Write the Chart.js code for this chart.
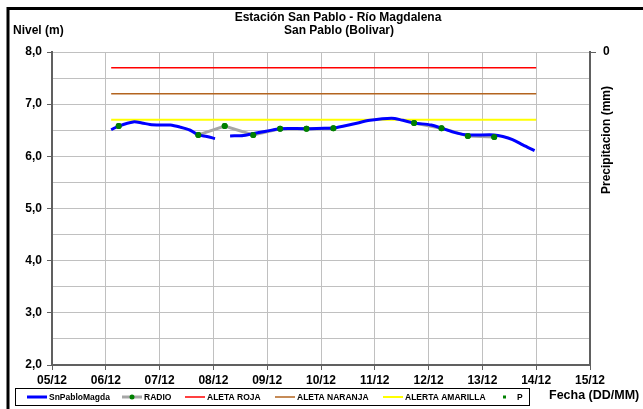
<!DOCTYPE html>
<html>
<head>
<meta charset="utf-8">
<script src="https://cdn.jsdelivr.net/npm/chart.js@4.4.1/dist/chart.umd.min.js"></script>
<style>
	html, body { margin: 0; padding: 0; background: #fff; }
	#wrap { position: relative; width: 643px; height: 409px; }
</style>
</head>
<body>
<div id="wrap"><canvas id="nivel-chart" width="643" height="409"></canvas></div>
<script>
// tick labels for days 5..15 of December
const fechaEtiquetas = ["05/12", "06/12", "07/12", "08/12", "09/12", "10/12", "11/12", "12/12", "13/12", "14/12", "15/12"];

// SnPabloMagda sensor (x = day of month, fractional)
const nivelDias = [6.10, 6.24, 6.51, 6.67, 6.82, 7.01, 7.20, 7.38, 7.57, 7.72, 7.88, 8.03, 8.15,
	8.31, 8.56, 8.71, 8.98, 9.24, 9.73, 10.07, 10.23, 10.60, 10.91, 11.31, 11.52, 11.73, 12.05,
	12.24, 12.51, 12.73, 13.22, 13.38, 13.56, 13.75, 13.97];
const nivelValores = [6.51, 6.58, 6.66, 6.64, 6.61, 6.60, 6.60, 6.56, 6.50, 6.41, 6.38, 6.34, null,
	6.39, 6.40, 6.43, 6.48, 6.53, 6.53, 6.54, 6.54, 6.62, 6.69, 6.73, 6.69, 6.64, 6.60,
	6.54, 6.45, 6.41, 6.41, 6.38, 6.32, 6.22, 6.11];

// RADIO readings (null = no reading, line breaks)
const radioDias = [6.24, 7.00, 7.72, 8.21, 8.74, 9.24, 9.73, 10.23, 11.00, 11.73, 12.24, 12.73, 13.22];
const radioValores = [6.58, null, 6.41, 6.58, 6.41, 6.53, 6.53, 6.54, null, 6.64, 6.54, 6.39, 6.37];

// alert thresholds
const alertaDias = [6.10, 14.00];
const aletaRoja = 7.7;
const aletaNaranja = 7.2;
const alertaAmarilla = 6.7;

// precipitation (no readings in the period)
const precipitacion = [];

const FONT = "'Liberation Sans', Arial, sans-serif";

function toPoints(xs, ys) {
	return xs.map((x, i) => ({ x: x, y: ys[i] }));
}

function flatLine(value) {
	return alertaDias.map((x) => ({ x: x, y: value }));
}

const decorPlugin = {
	id: "decor",
	afterDatasetsDraw(chart) {
		// green radio markers on top of the blue line
		const radioMeta = chart.getDatasetMeta(1);
		radioMeta.data.forEach((pt) => { if (!pt.skip) pt.draw(chart.ctx); });
	},
	afterDraw(chart) {
		const ctx = chart.ctx;
		ctx.save();
		// frame
		ctx.strokeStyle = "#000";
		ctx.lineWidth = 3;
		ctx.beginPath();
		ctx.moveTo(8, 409);
		ctx.lineTo(8, 8.5);
		ctx.lineTo(643, 8.5);
		ctx.stroke();

		ctx.fillStyle = "#000";
		ctx.textBaseline = "middle";
		ctx.font = "bold 12px " + FONT;
		ctx.textAlign = "center";
		ctx.fillText("Estación San Pablo - Río Magdalena", 338, 18);
		ctx.fillText("San Pablo (Bolivar)", 339, 31);
		ctx.textAlign = "left";
		ctx.fillText("Nivel (m)", 13, 31);
		ctx.font = "bold 12.5px " + FONT;
		ctx.fillText("Fecha (DD/MM)", 549, 396);

		ctx.save();
		ctx.translate(607, 140);
		ctx.rotate(-Math.PI / 2);
		ctx.font = "bold 12px " + FONT;
		ctx.textAlign = "center";
		ctx.fillText("Precipitacion (mm)", 0, 0);
		ctx.restore();

		// legend
		ctx.lineWidth = 1;
		ctx.strokeStyle = "#000";
		ctx.strokeRect(15.5, 388.5, 514, 17);
		const starts = [27, 122, 185, 275, 383, 503];
		const yMid = 397;
		ctx.font = "bold 8.5px " + FONT;
		chart.data.datasets.forEach((ds, i) => {
			const x0 = starts[i];
			let textX;
			if (ds.showLine === false) {
				ctx.fillStyle = ds.pointBackgroundColor;
				ctx.fillRect(x0, yMid - 1.5, 3, 3);
				textX = x0 + 14;
			} else {
				ctx.strokeStyle = ds.borderColor;
				ctx.lineWidth = ds.borderWidth;
				ctx.beginPath();
				ctx.moveTo(x0, yMid);
				ctx.lineTo(x0 + 20, yMid);
				ctx.stroke();
				if (ds.pointRadius > 0) {
					ctx.fillStyle = ds.pointBackgroundColor;
					ctx.beginPath();
					ctx.arc(x0 + 10, yMid, 2.5, 0, Math.PI * 2);
					ctx.fill();
				}
				textX = x0 + 22;
			}
			ctx.fillStyle = "#000";
			ctx.fillText(ds.label, textX, yMid + 0.5);
		});
		ctx.restore();
	}
};

function buildChart(canvas) {
	return new Chart(canvas, {
		type: "line",
		data: {
			datasets: [
				{
					label: "SnPabloMagda",
					data: toPoints(nivelDias, nivelValores),
					borderColor: "#0000ff",
					borderWidth: 3,
					pointRadius: 0,
					tension: 0.3,
					order: 1
				},
				{
					label: "RADIO",
					data: toPoints(radioDias, radioValores),
					borderColor: "#a6a6a6",
					borderWidth: 3,
					pointRadius: 3,
					pointBackgroundColor: "#008000",
					pointBorderColor: "#008000",
					pointBorderWidth: 0,
					order: 2
				},
				{
					label: "ALETA ROJA",
					data: flatLine(aletaRoja),
					borderColor: "#ff0000",
					borderWidth: 1.5,
					pointRadius: 0,
					order: 3
				},
				{
					label: "ALETA NARANJA",
					data: flatLine(aletaNaranja),
					borderColor: "#b3641f",
					borderWidth: 1.5,
					pointRadius: 0,
					order: 3
				},
				{
					label: "ALERTA AMARILLA",
					data: flatLine(alertaAmarilla),
					borderColor: "#ffff00",
					borderWidth: 2,
					pointRadius: 0,
					order: 3
				},
				{
					label: "P",
					data: precipitacion,
					yAxisID: "y2",
					showLine: false,
					pointStyle: "rect",
					pointRadius: 2,
					pointBackgroundColor: "#008000",
					borderColor: "#008000",
					order: 0
				}
			]
		},
		options: {
			responsive: false,
			animation: false,
			events: [],
			layout: { padding: { left: 0, right: 0, top: 52, bottom: 0 } },
			plugins: {
				legend: { display: false },
				title: { display: false },
				tooltip: { enabled: false }
			},
			scales: {
				x: {
					type: "linear",
					min: 5,
					max: 15,
					afterFit(scale) { scale.height = 44; },
					grid: { color: "#c0c0c0", lineWidth: 1, tickLength: 5, tickColor: "#606060" },
					border: { color: "#606060", width: 2 },
					ticks: {
						stepSize: 1,
						autoSkip: false,
						maxRotation: 0,
						padding: 3,
						color: "#000",
						font: { family: FONT, size: 12, weight: "bold" },
						callback: (v) => fechaEtiquetas[Math.round(v) - 5]
					}
				},
				y: {
					min: 2,
					max: 8,
					afterFit(scale) { scale.width = 52; },
					grid: {
						color: "#c0c0c0",
						lineWidth: 1,
						tickLength: 5,
						tickColor: (c) => (Number.isInteger(c.tick.value) ? "#606060" : "rgba(0,0,0,0)")
					},
					border: { color: "#606060", width: 2 },
					ticks: {
						stepSize: 0.5,
						padding: 5,
						color: "#000",
						font: { family: FONT, size: 12, weight: "bold" },
						callback: (v) => (Number.isInteger(v) ? v.toFixed(1).replace(".", ",") : "")
					}
				},
				y2: {
					position: "right",
					reverse: true,
					min: 0,
					max: 10,
					afterFit(scale) { scale.width = 53; },
					grid: {
						drawOnChartArea: false,
						tickLength: 6,
						tickColor: (c) => (c.tick.value === 0 ? "#606060" : "rgba(0,0,0,0)")
					},
					border: { color: "#606060", width: 2 },
					ticks: {
						stepSize: 10,
						padding: 7,
						color: "#000",
						font: { family: FONT, size: 12, weight: "bold" },
						callback: (v) => (v === 0 ? "0" : "")
					}
				}
			}
		},
		plugins: [decorPlugin]
	});
}

document.addEventListener("DOMContentLoaded", () => {
	window.nivelChart = buildChart(document.getElementById("nivel-chart"));
});
</script>
</body>
</html>
